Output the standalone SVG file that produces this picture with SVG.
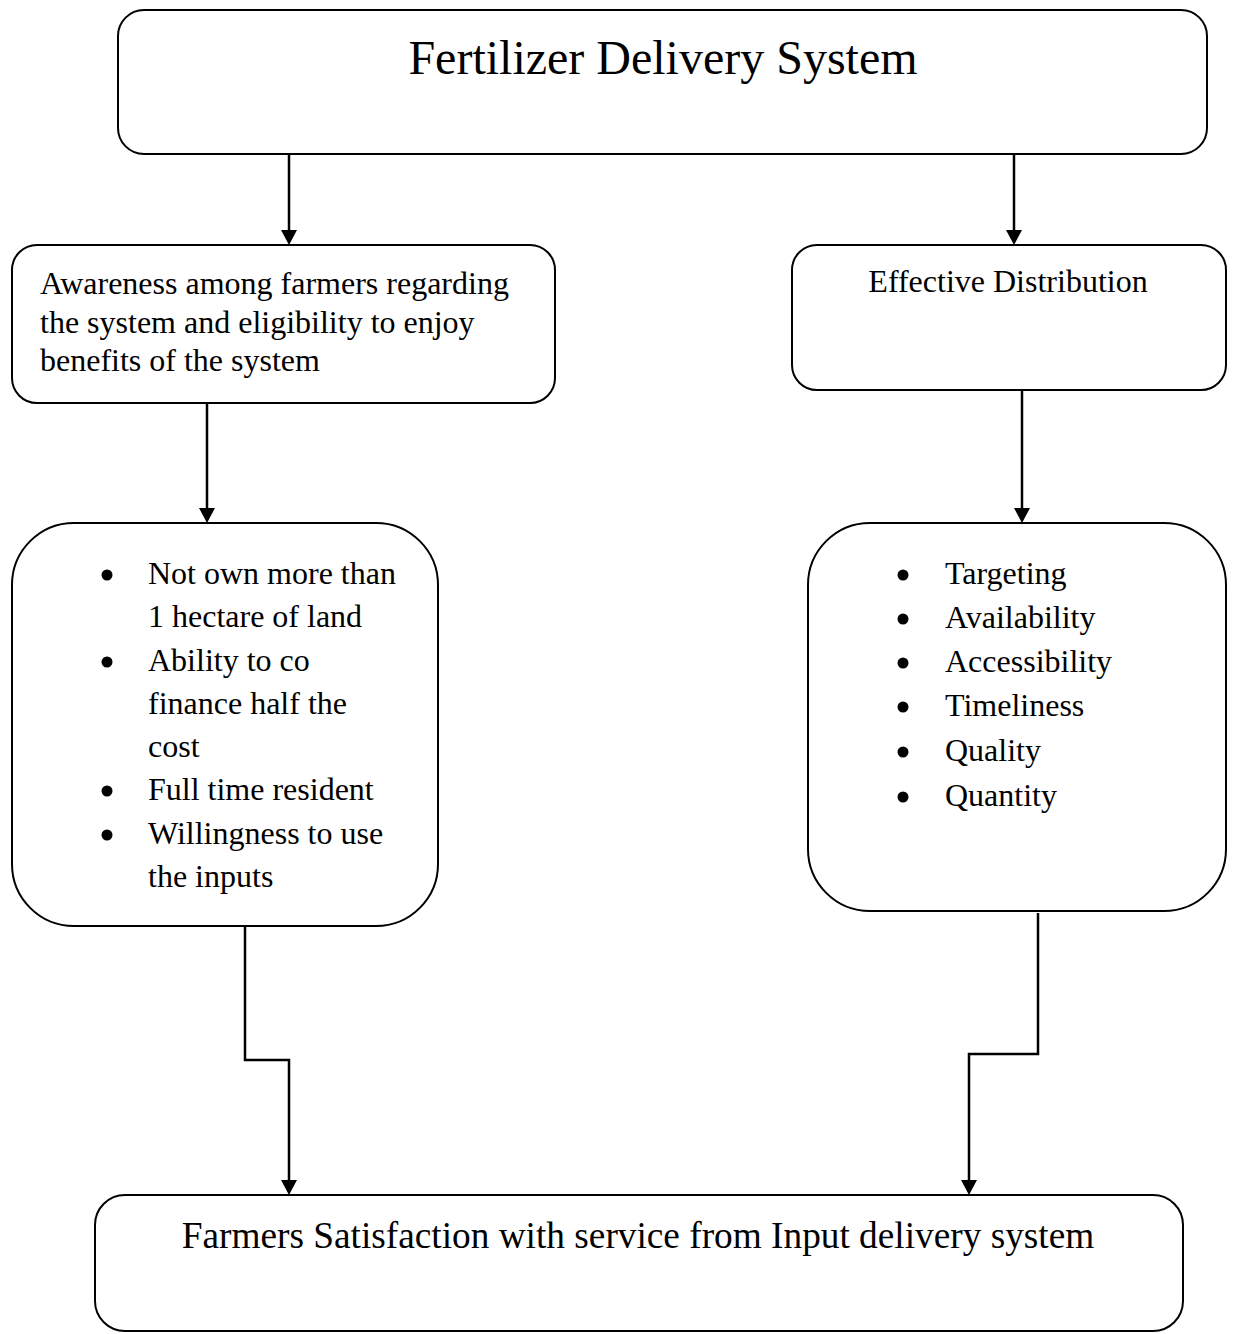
<svg xmlns="http://www.w3.org/2000/svg" width="1237" height="1334" viewBox="0 0 1237 1334">
<defs>
<style>
.box{fill:#fff;stroke:#000;stroke-width:2}
.t{font-family:"Liberation Serif","Times New Roman",serif;fill:#000}
.c{fill:none;stroke:#000;stroke-width:2.5}
.dot{fill:#000}
.ah{fill:#000}
</style>
</defs>
<rect width="1237" height="1334" fill="#fff"/>
<g id="connectors">
<path class="c" d="M289,154 V230"/>
<path class="ah" d="M281,230 L297,230 L289,245 Z"/>
<path class="c" d="M1014,154 V230"/>
<path class="ah" d="M1006,230 L1022,230 L1014,245 Z"/>
<path class="c" d="M207,403 V508"/>
<path class="ah" d="M199,508 L215,508 L207,523 Z"/>
<path class="c" d="M1022,390 V508"/>
<path class="ah" d="M1014,508 L1030,508 L1022,523 Z"/>
<path class="c" d="M245,926 V1060 H289 V1180"/>
<path class="ah" d="M281,1180 L297,1180 L289,1195 Z"/>
<path class="c" d="M1038,913 V1054 H969 V1180"/>
<path class="ah" d="M961,1180 L977,1180 L969,1195 Z"/>
</g>
<g id="node-top">
<rect class="box" x="118" y="10" width="1089" height="144" rx="26" ry="26"/>
<text class="t" x="663" y="74" font-size="48" text-anchor="middle">Fertilizer Delivery System</text>
</g>
<g id="node-awareness">
<rect class="box" x="12" y="245" width="543" height="158" rx="25" ry="25"/>
<text class="t" font-size="32"><tspan x="40" y="294">Awareness among farmers regarding</tspan><tspan x="40" y="333">the system and eligibility to enjoy</tspan><tspan x="40" y="371">benefits of the system</tspan></text>
</g>
<g id="node-distribution">
<rect class="box" x="792" y="245" width="434" height="145" rx="25" ry="25"/>
<text class="t" x="1008" y="292" font-size="32" text-anchor="middle">Effective Distribution</text>
</g>
<g id="node-eligibility">
<rect class="box" x="12" y="523" width="426" height="403" rx="62" ry="62"/>
<circle class="dot" cx="107" cy="575" r="5.5"/>
<circle class="dot" cx="107" cy="662" r="5.5"/>
<circle class="dot" cx="107" cy="791" r="5.5"/>
<circle class="dot" cx="107" cy="835" r="5.5"/>
<text class="t" font-size="32"><tspan x="148" y="584">Not own more than</tspan><tspan x="148" y="627">1 hectare of land</tspan><tspan x="148" y="671">Ability to co</tspan><tspan x="148" y="714">finance half the</tspan><tspan x="148" y="757">cost</tspan><tspan x="148" y="800">Full time resident</tspan><tspan x="148" y="844">Willingness to use</tspan><tspan x="148" y="887">the inputs</tspan></text>
</g>
<g id="node-criteria">
<rect class="box" x="808" y="523" width="418" height="388" rx="62" ry="62"/>
<circle class="dot" cx="903" cy="575" r="5.5"/>
<circle class="dot" cx="903" cy="619" r="5.5"/>
<circle class="dot" cx="903" cy="663" r="5.5"/>
<circle class="dot" cx="903" cy="707" r="5.5"/>
<circle class="dot" cx="903" cy="752" r="5.5"/>
<circle class="dot" cx="903" cy="797" r="5.5"/>
<text class="t" font-size="32"><tspan x="945" y="584">Targeting</tspan><tspan x="945" y="628">Availability</tspan><tspan x="945" y="672">Accessibility</tspan><tspan x="945" y="716">Timeliness</tspan><tspan x="945" y="761">Quality</tspan><tspan x="945" y="806">Quantity</tspan></text>
</g>
<g id="node-satisfaction">
<rect class="box" x="95" y="1195" width="1088" height="136" rx="30" ry="30"/>
<text class="t" x="638" y="1248" font-size="37.3" text-anchor="middle">Farmers Satisfaction with service from Input delivery system</text>
</g>
</svg>
